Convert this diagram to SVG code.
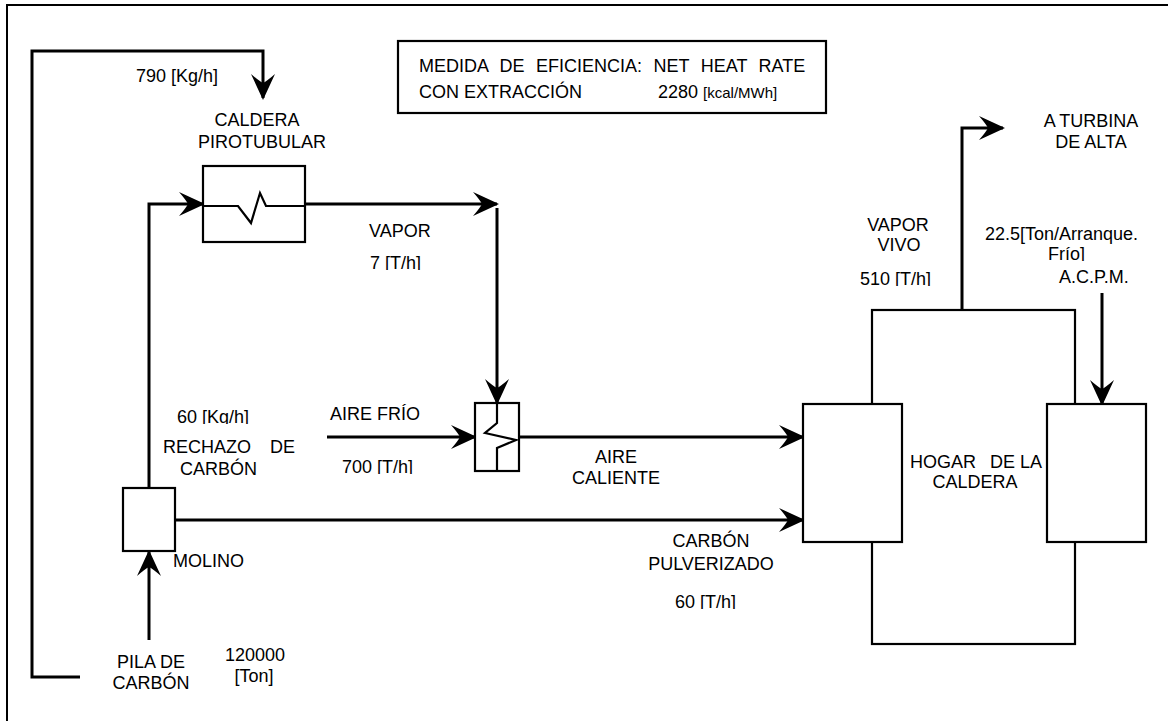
<svg xmlns="http://www.w3.org/2000/svg" width="1168" height="721" viewBox="0 0 1168 721">
<style>
text{font-family:"Liberation Sans",Arial,sans-serif;font-size:18px;fill:#000}
.box{fill:#fff;stroke:#000;stroke-width:2.2}
.ln{fill:none;stroke:#000;stroke-width:3}
.thin{fill:none;stroke:#000;stroke-width:2.2}
.mid{text-anchor:middle}
</style>
<defs>
<marker id="ah" markerUnits="userSpaceOnUse" viewBox="-28 -14 31 28" markerWidth="31" markerHeight="28" refX="-2" refY="0" orient="auto">
<path d="M0,0 L-26,-12 Q-19,-4 -17,0 Q-19,4 -26,12 Z" fill="#000"/>
</marker>
<clipPath id="k1" clipPathUnits="userSpaceOnUse"><rect x="360" y="245" width="90" height="25"/></clipPath>
<clipPath id="k2" clipPathUnits="userSpaceOnUse"><rect x="170" y="400" width="100" height="24"/></clipPath>
<clipPath id="k3" clipPathUnits="userSpaceOnUse"><rect x="335" y="450" width="100" height="24"/></clipPath>
<clipPath id="k4" clipPathUnits="userSpaceOnUse"><rect x="665" y="585" width="100" height="24"/></clipPath>
<clipPath id="k5" clipPathUnits="userSpaceOnUse"><rect x="850" y="262" width="100" height="24"/></clipPath>
<clipPath id="k6" clipPathUnits="userSpaceOnUse"><rect x="1040" y="240" width="70" height="21"/></clipPath>
</defs>
<rect id="frame" x="7" y="5" width="1175" height="735" fill="none" stroke="#000" stroke-width="2"/>

<g id="connectors">
<path class="ln" d="M80,677 H32 V51 H263 V98" marker-end="url(#ah)"/>
<path class="ln" d="M149,488 V204 H203" marker-end="url(#ah)"/>
<path class="ln" d="M305,204 H497" marker-end="url(#ah)"/>
<path class="ln" d="M497,208 V403" marker-end="url(#ah)"/>
<path class="ln" d="M327,437 H475" marker-end="url(#ah)"/>
<path class="ln" d="M519,437 H803" marker-end="url(#ah)"/>
<path class="ln" d="M175,520 H803" marker-end="url(#ah)"/>
<path class="ln" d="M149,640 V552" marker-end="url(#ah)"/>
<path class="ln" d="M962,310 V128 H1003" marker-end="url(#ah)"/>
<path class="ln" d="M1102,293 V404" marker-end="url(#ah)"/>
</g>

<g id="efficiency">
<rect class="box" x="398" y="41" width="428" height="72"/>
<text x="419" y="72" style="word-spacing:6.5px">MEDIDA DE EFICIENCIA: NET HEAT RATE</text>
<text x="419" y="98">CON EXTRACCIÓN</text>
<text x="658" y="98">2280 <tspan style="font-size:15px">[kcal/MWh]</tspan></text>
</g>

<g id="coal-loop-label">
<text x="136" y="82">790 [Kg/h]</text>
</g>

<g id="caldera-pirotubular">
<rect class="box" x="203" y="166" width="102" height="76"/>
<path class="thin" d="M203,206 H238 L251,223 L260,193 L266,206 H305"/>
<text class="mid" x="257" y="126">CALDERA</text>
<text class="mid" x="262" y="148">PIROTUBULAR</text>
</g>

<g id="vapor-label">
<text x="369" y="237">VAPOR</text>
<text x="370" y="269" clip-path="url(#k1)">7 [T/h]</text>
</g>

<g id="calentador-aire">
<rect class="box" x="475" y="403" width="44" height="68"/>
<path class="thin" d="M497,403 V423 L485,433 L516,440 L497,448 V471"/>
</g>

<g id="aire-frio-label">
<text x="330" y="420">AIRE FRÍO</text>
<text x="342" y="473" clip-path="url(#k3)">700 [T/h]</text>
</g>

<g id="rechazo-label">
<text x="177" y="423" clip-path="url(#k2)">60 [Kg/h]</text>
<text y="453"><tspan x="163">RECHAZO</tspan><tspan x="270">DE</tspan></text>
<text x="180" y="475">CARBÓN</text>
</g>

<g id="molino">
<rect class="box" x="123" y="488" width="52" height="63"/>
<text x="173" y="567">MOLINO</text>
</g>

<g id="pila-carbon">
<text class="mid" x="151" y="668">PILA DE</text>
<text class="mid" x="151" y="689">CARBÓN</text>
<text class="mid" x="255" y="661">120000</text>
<text class="mid" x="254" y="682">[Ton]</text>
</g>

<g id="aire-caliente-label">
<text class="mid" x="616" y="463">AIRE</text>
<text class="mid" x="616" y="484">CALIENTE</text>
</g>

<g id="carbon-pulverizado-label">
<text class="mid" x="711" y="547">CARBÓN</text>
<text class="mid" x="711" y="570">PULVERIZADO</text>
<text x="675" y="608" clip-path="url(#k4)">60 [T/h]</text>
</g>

<g id="hogar-caldera">
<rect class="box" x="872" y="310" width="203" height="334"/>
<rect class="box" x="803" y="404" width="99" height="138"/>
<rect class="box" x="1047" y="404" width="99" height="138"/>
<text y="468"><tspan x="910">HOGAR</tspan><tspan x="990">DE LA</tspan></text>
<text class="mid" x="975" y="488">CALDERA</text>
</g>

<g id="vapor-vivo-label">
<text class="mid" x="898" y="231">VAPOR</text>
<text class="mid" x="899" y="251">VIVO</text>
<text x="860" y="285" clip-path="url(#k5)">510 [T/h]</text>
</g>

<g id="turbina-alta">
<text class="mid" x="1091" y="127">A TURBINA</text>
<text class="mid" x="1091" y="148">DE ALTA</text>
</g>

<g id="acpm-label">
<text x="985" y="240">22.5[Ton/Arranque.</text>
<text x="1048" y="260" clip-path="url(#k6)">Frío]</text>
<text x="1059" y="283">A.C.P.M.</text>
</g>
</svg>
